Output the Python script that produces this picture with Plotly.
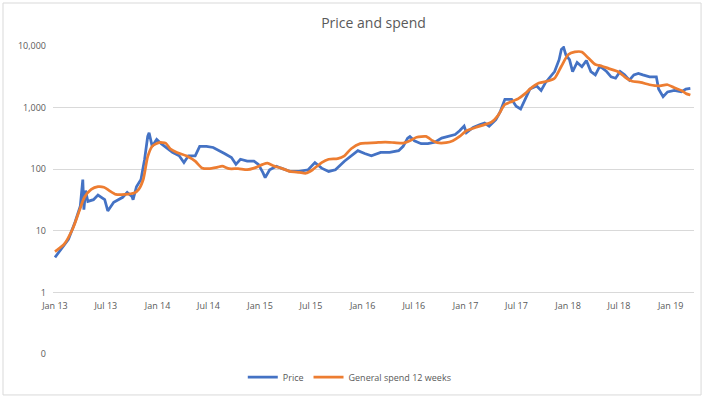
import plotly.graph_objects as go

price_dates = [
    "2013-01-01", "2013-02-18", "2013-03-14", "2013-04-01", "2013-04-10", "2013-04-14",
    "2013-04-20", "2013-04-28", "2013-05-18", "2013-06-03", "2013-06-27", "2013-07-08",
    "2013-07-29", "2013-08-30", "2013-09-15", "2013-10-02", "2013-10-06", "2013-10-18",
    "2013-11-03", "2013-11-16", "2013-11-27", "2013-12-02", "2013-12-13", "2013-12-29",
    "2014-01-14", "2014-01-30", "2014-02-23", "2014-03-19", "2014-04-05", "2014-04-21",
    "2014-05-15", "2014-05-31", "2014-06-24", "2014-07-18", "2014-08-11", "2014-08-27",
    "2014-09-21", "2014-10-07", "2014-10-23", "2014-11-16", "2014-12-10", "2014-12-26",
    "2015-01-11", "2015-01-19", "2015-02-04", "2015-02-28", "2015-03-17", "2015-04-18",
    "2015-05-20", "2015-06-21", "2015-07-15", "2015-08-08", "2015-09-02", "2015-09-26",
    "2015-10-28", "2015-11-21", "2015-12-15", "2016-01-08", "2016-02-01", "2016-03-05",
    "2016-04-06", "2016-05-08", "2016-05-24", "2016-06-09", "2016-06-17", "2016-07-03",
    "2016-07-27", "2016-08-20", "2016-09-14", "2016-10-08", "2016-11-01", "2016-11-25",
    "2016-12-11", "2016-12-27", "2017-01-04", "2017-01-28", "2017-02-22", "2017-03-10",
    "2017-03-26", "2017-04-19", "2017-05-05", "2017-05-21", "2017-06-14", "2017-06-30",
    "2017-07-16", "2017-08-02", "2017-08-18", "2017-09-11", "2017-09-27", "2017-10-13",
    "2017-10-29", "2017-11-14", "2017-11-30", "2017-12-08", "2017-12-16", "2017-12-24",
    "2018-01-06", "2018-01-17", "2018-02-02", "2018-02-19", "2018-03-07", "2018-03-23",
    "2018-04-08", "2018-04-24", "2018-05-18", "2018-06-03", "2018-06-19", "2018-07-05",
    "2018-07-21", "2018-08-07", "2018-08-23", "2018-09-08", "2018-09-24", "2018-10-18",
    "2018-11-11", "2018-11-19", "2018-12-05", "2018-12-21", "2019-01-14", "2019-02-08",
    "2019-02-24", "2019-03-12",
]
price_values = [
    3.7, 7.3, 14, 25, 68, 22,
    45, 30, 32, 38, 32, 21,
    29, 35, 42, 36, 32, 52,
    68, 145, 340, 390, 235, 305,
    260, 225, 187, 165, 128, 165,
    165, 235, 235, 225, 200, 180,
    155, 120, 145, 135, 135, 120,
    88, 73, 98, 112, 104, 92,
    92, 98, 128, 104, 92, 98,
    135, 165, 200, 180, 165, 187,
    187, 200, 235, 320, 340, 290,
    260, 260, 275, 320, 340, 365,
    420, 500, 390, 475, 530, 560,
    500, 640, 870, 1360, 1360, 1050,
    950, 1400, 2000, 2250, 1900, 2560,
    3160, 3850, 6000, 8800, 9500, 7200,
    6000, 3850, 5400, 4600, 5800, 3850,
    3400, 4700, 3850, 3160, 3000, 3850,
    3400, 2800, 3400, 3600, 3400, 3160,
    3160, 2000, 1500, 1800, 1900, 1800,
    2000, 2050,
]

spend_dates = [
    "2013-01-01", "2013-02-02", "2013-03-06", "2013-03-30", "2013-04-16", "2013-05-10",
    "2013-06-03", "2013-06-24", "2013-07-13", "2013-08-06", "2013-09-07", "2013-10-10",
    "2013-10-26", "2013-11-11", "2013-11-27", "2013-12-13", "2014-01-06", "2014-01-30",
    "2014-02-15", "2014-03-11", "2014-04-13", "2014-05-15", "2014-06-08", "2014-07-02",
    "2014-08-03", "2014-08-19", "2014-09-13", "2014-10-15", "2014-11-16", "2014-12-10",
    "2015-01-11", "2015-01-27", "2015-02-20", "2015-03-17", "2015-04-18", "2015-05-20",
    "2015-06-13", "2015-07-07", "2015-08-08", "2015-09-02", "2015-10-04", "2015-10-28",
    "2015-11-21", "2015-12-23", "2016-01-16", "2016-02-18", "2016-03-21", "2016-04-22",
    "2016-05-24", "2016-06-17", "2016-07-11", "2016-08-13", "2016-09-06", "2016-09-22",
    "2016-10-24", "2016-11-17", "2016-12-11", "2017-01-04", "2017-02-05", "2017-03-10",
    "2017-04-03", "2017-04-27", "2017-05-21", "2017-06-14", "2017-07-08", "2017-08-02",
    "2017-08-18", "2017-09-19", "2017-10-21", "2017-11-14", "2017-12-08", "2018-01-01",
    "2018-01-25", "2018-02-19", "2018-03-15", "2018-04-08", "2018-05-02", "2018-05-26",
    "2018-06-27", "2018-07-21", "2018-08-15", "2018-09-16", "2018-10-18", "2018-11-19",
    "2018-12-21", "2019-01-14", "2019-02-08", "2019-02-24", "2019-03-12",
]
spend_values = [
    4.6, 6, 11, 22, 35, 47,
    52, 51, 45, 39, 39, 41,
    47, 68, 160, 235, 270, 265,
    215, 187, 165, 135, 105, 102,
    108, 112, 102, 102, 98, 104,
    120, 125, 112, 104, 92, 89,
    86, 98, 128, 145, 148, 165,
    215, 260, 265, 270, 275, 270,
    265, 290, 330, 340, 290, 270,
    270, 290, 340, 420, 475, 530,
    580, 750, 1120, 1250, 1400, 1700,
    2000, 2500, 2700, 3000, 4700, 7200,
    8000, 8000, 6300, 5000, 4700, 4300,
    3850, 3160, 2700, 2560, 2350, 2250,
    2350, 2100, 1900, 1700, 1600,
]

y_tickvals = [0.1, 1, 10, 100, 1000, 10000]
y_ticktext = ["0", "1", "10", "100", "1,000", "10,000"]

font_family = "Open Sans, Liberation Sans, sans-serif"
text_grey = "#595959"

fig = go.Figure()
fig.add_trace(go.Scatter(
    x=price_dates, y=price_values, mode="lines", name="Price",
    line=dict(color="#4472C4", width=2.75),
))
fig.add_trace(go.Scatter(
    x=spend_dates, y=spend_values, mode="lines", name="General spend 12 weeks",
    line=dict(color="#ED7D31", width=2.75, shape="spline", smoothing=0.6),
))

fig.update_layout(
    width=708, height=400,
    margin=dict(l=53, r=14, t=46, b=46, autoexpand=False),
    paper_bgcolor="white", plot_bgcolor="white",
    font=dict(family=font_family, color=text_grey, size=9),
    title=dict(text="Price and spend", x=0.5, xref="paper", xanchor="center",
               y=1 - 23 / 400, yref="container", yanchor="middle",
               font=dict(size=14, color=text_grey, family=font_family)),
    showlegend=True,
    legend=dict(orientation="h", x=0.463, xanchor="center",
                y=1 - 377 / 400, yref="container", yanchor="middle",
                font=dict(size=9, color=text_grey), itemwidth=30,
                bgcolor="rgba(0,0,0,0)"),
    xaxis=dict(
        type="date", range=["2012-12-25", "2019-03-25"],
        tick0="2013-01-01", dtick="M6", tickformat="%b %y",
        showgrid=False, zeroline=False, showline=False, ticks="",
        anchor="free", position=0.2, ticklabelstandoff=7,
        tickfont=dict(size=9, color=text_grey),
    ),
    yaxis=dict(
        type="log", range=[-1, 4],
        tickvals=y_tickvals, ticktext=y_ticktext,
        showgrid=True, gridcolor="#d9d9d9", gridwidth=1,
        zeroline=False, showline=False, ticks="", ticklabelstandoff=6,
        tickfont=dict(size=9, color=text_grey),
    ),
    shapes=[dict(type="rect", xref="paper", yref="paper",
                 x0=-0.078, x1=1.011, y0=-0.133, y1=1.1396,
                 line=dict(color="#d9d9d9", width=1), fillcolor="rgba(0,0,0,0)",
                 layer="below")],
)

fig.write_html(
    "out.html",
    config={"displayModeBar": False},
    post_script="document.body.style.margin='0';document.body.style.overflow='hidden';",
)
